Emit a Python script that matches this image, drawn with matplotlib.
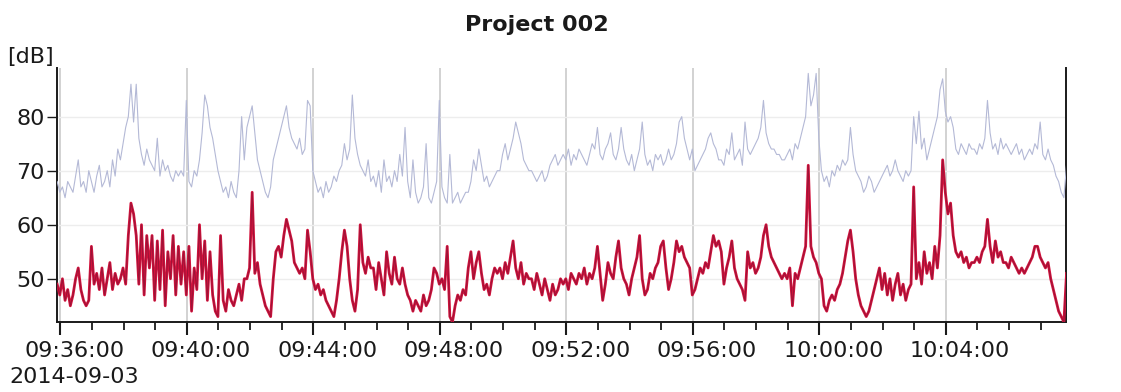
import matplotlib
matplotlib.use("Agg")
import matplotlib.pyplot as plt
import matplotlib.dates as mdates
import matplotlib.transforms as mtransforms
import pandas as pd

title = "Project 002"
y_label = "[dB]"
date_label = "2014-09-03"
start_time = "2014-09-03 09:35:54"
sample_step = "5s"
x_start = "2014-09-03 09:35:53.7"
x_end = "2014-09-03 10:07:48"
y_ticks = [50, 60, 70, 80]

# lower (red) series, one row per minute (5 s samples)
red_db = [
    49, 47, 50, 46, 48, 45, 47, 50, 52, 48, 46, 45,
    46, 56, 49, 51, 48, 52, 47, 50, 53, 48, 51, 49,
    50, 52, 49, 58, 64, 62, 58, 49, 60, 47, 58, 52,
    58, 46, 57, 48, 59, 45, 55, 50, 58, 47, 56, 49,
    55, 47, 56, 44, 52, 48, 60, 50, 57, 46, 55, 47,
    44, 43, 58, 46, 44, 48, 46, 45, 47, 49, 46, 50,
    50, 52, 66, 51, 53, 49, 47, 45, 44, 43, 50, 55,
    56, 54, 58, 61, 59, 57, 53, 52, 51, 52, 50, 59,
    55, 50, 48, 49, 47, 48, 46, 45, 44, 43, 46, 50,
    55, 59, 56, 50, 46, 44, 48, 60, 53, 51, 54, 52,
    52, 48, 53, 50, 47, 55, 51, 49, 54, 50, 49, 52,
    49, 47, 46, 44, 46, 45, 44, 47, 45, 46, 48, 52,
    51, 49, 50, 48, 56, 43, 42, 45, 47, 46, 48, 47,
    52, 55, 50, 53, 55, 51, 48, 49, 47, 50, 52, 51,
    52, 50, 53, 51, 54, 57, 52, 50, 53, 49, 51, 50,
    50, 48, 51, 49, 47, 50, 48, 46, 49, 47, 48, 50,
    49, 50, 48, 51, 50, 49, 51, 50, 52, 49, 51, 50,
    52, 56, 51, 46, 49, 53, 51, 50, 54, 57, 52, 50,
    49, 47, 50, 52, 54, 58, 50, 47, 48, 51, 50, 52,
    53, 56, 57, 52, 48, 50, 53, 57, 55, 56, 54, 53,
    52, 47, 48, 50, 52, 51, 53, 52, 55, 58, 56, 57,
    55, 49, 52, 54, 57, 52, 50, 49, 48, 46, 55, 52,
    53, 51, 52, 54, 58, 60, 56, 54, 53, 52, 51, 50,
    51, 50, 52, 45, 51, 50, 52, 54, 56, 71, 56, 54,
    53, 51, 50, 45, 44, 46, 47, 46, 48, 49, 51, 54,
    57, 59, 55, 50, 47, 45, 44, 43, 44, 46, 48, 50,
    52, 48, 51, 47, 50, 46, 49, 51, 47, 49, 46, 48,
    49, 67, 50, 53, 49, 55, 51, 53, 50, 56, 52, 58,
    72, 66, 62, 64, 58, 55, 54, 55, 53, 54, 52, 53,
    53, 54, 53, 55, 56, 61, 56, 53, 57, 54, 55, 53,
    53, 52, 54, 53, 52, 51, 52, 51, 52, 53, 54, 56,
    56, 54, 53, 52, 53, 50, 48, 46, 44, 43, 42, 51,
]

# upper (light blue) series, one row per minute (5 s samples)
blue_db = [
    68, 66, 67, 65, 68, 67, 66, 69, 72, 67, 68, 66,
    70, 68, 66, 69, 71, 67, 68, 70, 67, 72, 69, 74,
    72, 75, 78, 80, 86, 79, 86, 76, 73, 71, 74, 72,
    71, 70, 76, 69, 72, 70, 71, 69, 68, 70, 69, 70,
    69, 83, 68, 67, 70, 69, 72, 77, 84, 82, 78, 76,
    73, 70, 68, 66, 67, 65, 68, 66, 65, 70, 80, 72,
    78, 80, 82, 77, 72, 70, 68, 66, 65, 67, 72, 74,
    76, 78, 80, 82, 78, 76, 75, 74, 76, 73, 74, 83,
    82, 70, 68, 66, 67, 65, 68, 66, 67, 69, 68, 70,
    71, 75, 72, 74, 84, 76, 73, 71, 70, 69, 72, 68,
    69, 67, 70, 66, 72, 68, 69, 67, 70, 68, 73, 69,
    78, 68, 65, 72, 66, 64, 65, 67, 75, 65, 64, 66,
    68, 83, 67, 65, 64, 73, 64, 65, 66, 64, 65, 66,
    66, 68, 72, 70, 74, 71, 68, 69, 67, 68, 69, 70,
    70, 73, 75, 72, 74, 76, 79, 77, 75, 72, 71, 70,
    70, 69, 68, 69, 70, 68, 69, 71, 72, 73, 71, 72,
    73, 72, 74, 71, 73, 72, 74, 73, 72, 71, 73, 75,
    74, 78, 73, 72, 74, 75, 77, 73, 72, 74, 78, 74,
    72, 71, 73, 70, 72, 74, 79, 73, 71, 72, 70, 73,
    72, 73, 71, 72, 74, 72, 73, 75, 79, 80, 76, 74,
    72, 74, 70, 71, 72, 73, 74, 76, 77, 75, 74, 72,
    72, 71, 74, 73, 77, 72, 73, 74, 71, 79, 74, 73,
    74, 75, 76, 78, 83, 77, 75, 74, 74, 73, 73, 72,
    72, 73, 74, 72, 75, 74, 76, 78, 80, 88, 82, 84,
    88, 76, 70, 68, 69, 67, 70, 69, 71, 70, 72, 71,
    72, 78, 73, 70, 69, 68, 66, 67, 69, 68, 66, 67,
    68, 69, 70, 71, 69, 70, 72, 70, 69, 68, 70, 69,
    70, 80, 75, 81, 74, 76, 72, 74, 76, 78, 80, 85,
    87, 81, 79, 80, 78, 74, 73, 75, 74, 73, 75, 74,
    74, 73, 75, 74, 76, 83, 77, 74, 75, 73, 76, 74,
    75, 74, 73, 74, 75, 73, 74, 72, 73, 74, 73, 75,
    74, 79, 73, 72, 74, 72, 71, 69, 68, 66, 65, 71,
]

times = pd.date_range(start=start_time, periods=len(red_db), freq=sample_step)

W, H = 1121, 392
fig = plt.figure(figsize=(W / 100, H / 100), dpi=100)
ax = fig.add_axes([57 / W, 70 / H, (1066 - 57) / W, (324 - 70) / H])

ax.plot(times, blue_db, color="#b4b9d6", lw=0.8, zorder=3)
ax.plot(times, red_db, color="#d3123c", lw=2.0, zorder=4)
ax.plot(times, red_db, color="#6e1434", lw=0.7, alpha=0.55, zorder=5)

ax.set_xlim(pd.Timestamp(x_start), pd.Timestamp(x_end))
ax.set_ylim(42, 89)
ax.set_yticks(y_ticks)

ax.xaxis.set_major_locator(mdates.MinuteLocator(byminute=range(0, 60, 4)))
ax.xaxis.set_minor_locator(mdates.MinuteLocator())
ax.xaxis.set_major_formatter(mdates.DateFormatter("%H:%M:%S"))

ax.grid(True, axis="x", which="major", color="#d2d2d2", lw=1.4, zorder=1)
ax.grid(True, axis="y", which="major", color="#ededed", lw=1.0, zorder=1)

for s in ["left", "bottom", "right"]:
    ax.spines[s].set_color("#1a1a1a")
    ax.spines[s].set_linewidth(1.4)
ax.spines["top"].set_visible(False)

ax.tick_params(axis="x", which="major", direction="out", length=9, width=1.5,
               labelsize=16, pad=5, colors="#1a1a1a")
ax.tick_params(axis="x", which="minor", direction="out", length=6, width=1.3,
               colors="#1a1a1a")
ax.tick_params(axis="y", which="major", direction="out", length=7, width=1.0,
               labelsize=16, pad=2, colors="#1a1a1a")

offset = mtransforms.ScaledTranslation(14 / 100, 0, fig.dpi_scale_trans)
for lab in ax.get_xticklabels():
    lab.set_transform(lab.get_transform() + offset)

fig.text(537 / W, 1 - 25 / H, title, ha="center", va="center",
         fontsize=16, fontweight="bold", color="#1a1a1a")
fig.text(7 / W, 1 - 57 / H, y_label, ha="left", va="center",
         fontsize=16, color="#1a1a1a")
fig.text(9 / W, 1 - 377 / H, date_label, ha="left", va="center",
         fontsize=16, color="#1a1a1a")

fig.savefig("out.png", dpi=100)
